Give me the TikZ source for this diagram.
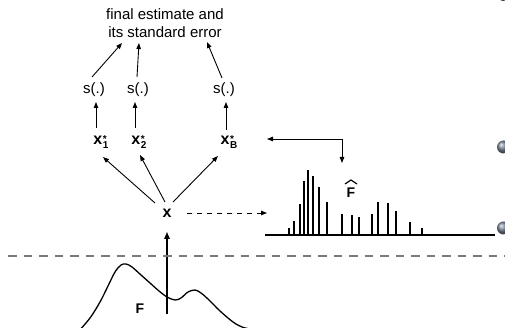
\documentclass[tikz,border=0pt]{standalone}
\usepackage{fontspec}
\setmainfont{Liberation Sans}
\usetikzlibrary{arrows.meta,shadings}
\definecolor{dgray}{HTML}{7A7A7A}
\definecolor{bulletc}{RGB}{120,132,150}
\newcommand{\xstar}[1]{\textbf{x}\kern0.6pt\rlap{\raisebox{2pt}{\fontsize{10}{10}\selectfont\bfseries *}}\raisebox{-3.5pt}{\fontsize{10}{10}\selectfont\bfseries #1}}
\begin{document}
\begin{tikzpicture}[x=1pt,y=-1pt,
  lbl/.style={inner sep=0pt, font=\fontsize{15}{18}\selectfont},
  bx/.style={inner sep=0pt, font=\fontsize{16}{18}\selectfont\bfseries},
  arr/.style={line width=0.9pt, -{Triangle[length=6pt,width=4.5pt]}},
  dblarr/.style={line width=0.9pt, {Triangle[length=6pt,width=4.5pt]}-{Triangle[length=6pt,width=4.5pt]}},
  dasharr/.style={line width=0.9pt, dash pattern=on 5pt off 5pt, -{Triangle[length=6pt,width=4.5pt]}},
  bar/.style={line width=1.7pt},
  bullet/.style={ball color=bulletc}]
\fill[white] (0,0) rectangle (505,328);
\useasboundingbox (0,0) rectangle (505,328);
\clip (0,0) rectangle (505,328);

% texts
\node[lbl, align=center] (title) at (165,23) {final estimate and\\its standard error};
\node[lbl] (s1) at (94,90) {s(.)};
\node[lbl] (s2) at (138,90) {s(.)};
\node[lbl] (sB) at (224,90) {s(.)};
\node[bx] (x1) at (101,142) {\xstar{1}};
\node[bx] (x2) at (139,142) {\xstar{2}};
\node[bx] (xB) at (229,142) {\xstar{B}};
\node[bx] (x) at (167,213) {x};
\node[bx, font=\fontsize{14}{16}\selectfont\bfseries] (F) at (140,309) {F};
\node[bx, font=\fontsize{14}{16}\selectfont\bfseries] (Fhat) at (351,193) {F};
\draw[line width=1.2pt] ([shift={(-6,-9)}]Fhat.center) -- ([shift={(0,-13)}]Fhat.center) -- ([shift={(6,-9)}]Fhat.center);

% arrows x* -> s
\draw[arr] ([shift={(-5,-14)}]x1.center) -- ([shift={(2,12)}]s1.center);
\draw[arr] ([shift={(-4,-14)}]x2.center) -- ([shift={(-3,12)}]s2.center);
\draw[arr] ([shift={(-3,-12)}]xB.center) -- ([shift={(2,12)}]sB.center);
% arrows s -> title
\draw[arr] ([shift={(-2,-13)}]s1.center) -- ([shift={(-43,20)}]title.center);
\draw[arr] ([shift={(-1,-13)}]s2.center) -- ([shift={(-26,20)}]title.center);
\draw[arr] ([shift={(-2,-12)}]sB.center) -- ([shift={(42,19)}]title.center);
% arrows x -> x*
\draw[arr] ([shift={(-12,-10)}]x.center) -- ([shift={(2,15)}]x1.center);
\draw[arr] ([shift={(-2,-11)}]x.center) -- ([shift={(1,13)}]x2.center);
\draw[arr] ([shift={(6,-11)}]x.center) -- ([shift={(-11,14)}]xB.center);

% dashed arrow to histogram
\coordinate (dend) at (267,213);
\draw[dasharr] ([shift={(20,0)}]x.center) -- (dend);

% elbow arrow
\coordinate (eL) at (267,139);
\coordinate (eD) at (342,163);
\draw[dblarr] (eL) -| (eD);

% vertical arrow from F
\coordinate (fb) at (167,314);
\draw[line width=1.3pt, -{Triangle[length=7pt,width=5.5pt]}] (fb) -- ([shift={(0,19)}]x.center);

% gray dashed separator
\coordinate (sepL) at (8,256);
\coordinate (sepR) at (505,256);
\draw[dgray, line width=1.8pt, dash pattern=on 8.5pt off 7pt] (sepL) -- (sepR);

% density curve
\draw[line width=1.3pt] plot[smooth, tension=0.55] coordinates {
  (78,332) (90,318) (100,302) (108,286) (115,272) (121,265) (126,264) (132,267)
  (141,275) (150,283) (159,291) (167,297) (175,300) (181,298) (188,292) (195,290)
  (201,293) (209,300) (220,311) (233,322) (242,327) (250,329)};

% histogram
\coordinate (hL) at (265,235);
\coordinate (hR) at (495,235);
\draw[line width=1.1pt] (hL) -- (hR);
\foreach \bx/\by in {289.3/228.3, 293.7/221, 300/204, 304/180.7, 308.3/170, 313.3/176,
  318.7/186.7, 327.3/202, 342.3/214, 352.3/215, 358.7/217.3, 372/214, 378.3/202,
  388/203, 396/210.7, 410/221.7, 422.3/228}
  \draw[bar] (\bx,235) -- (\bx,\by);

% bullets
\shade[bullet] (503.5,-5.5) circle (6.5);
\shade[bullet] (503.5,147) circle (6.5);
\shade[bullet] (503.5,228) circle (6.5);
\end{tikzpicture}
\end{document}
